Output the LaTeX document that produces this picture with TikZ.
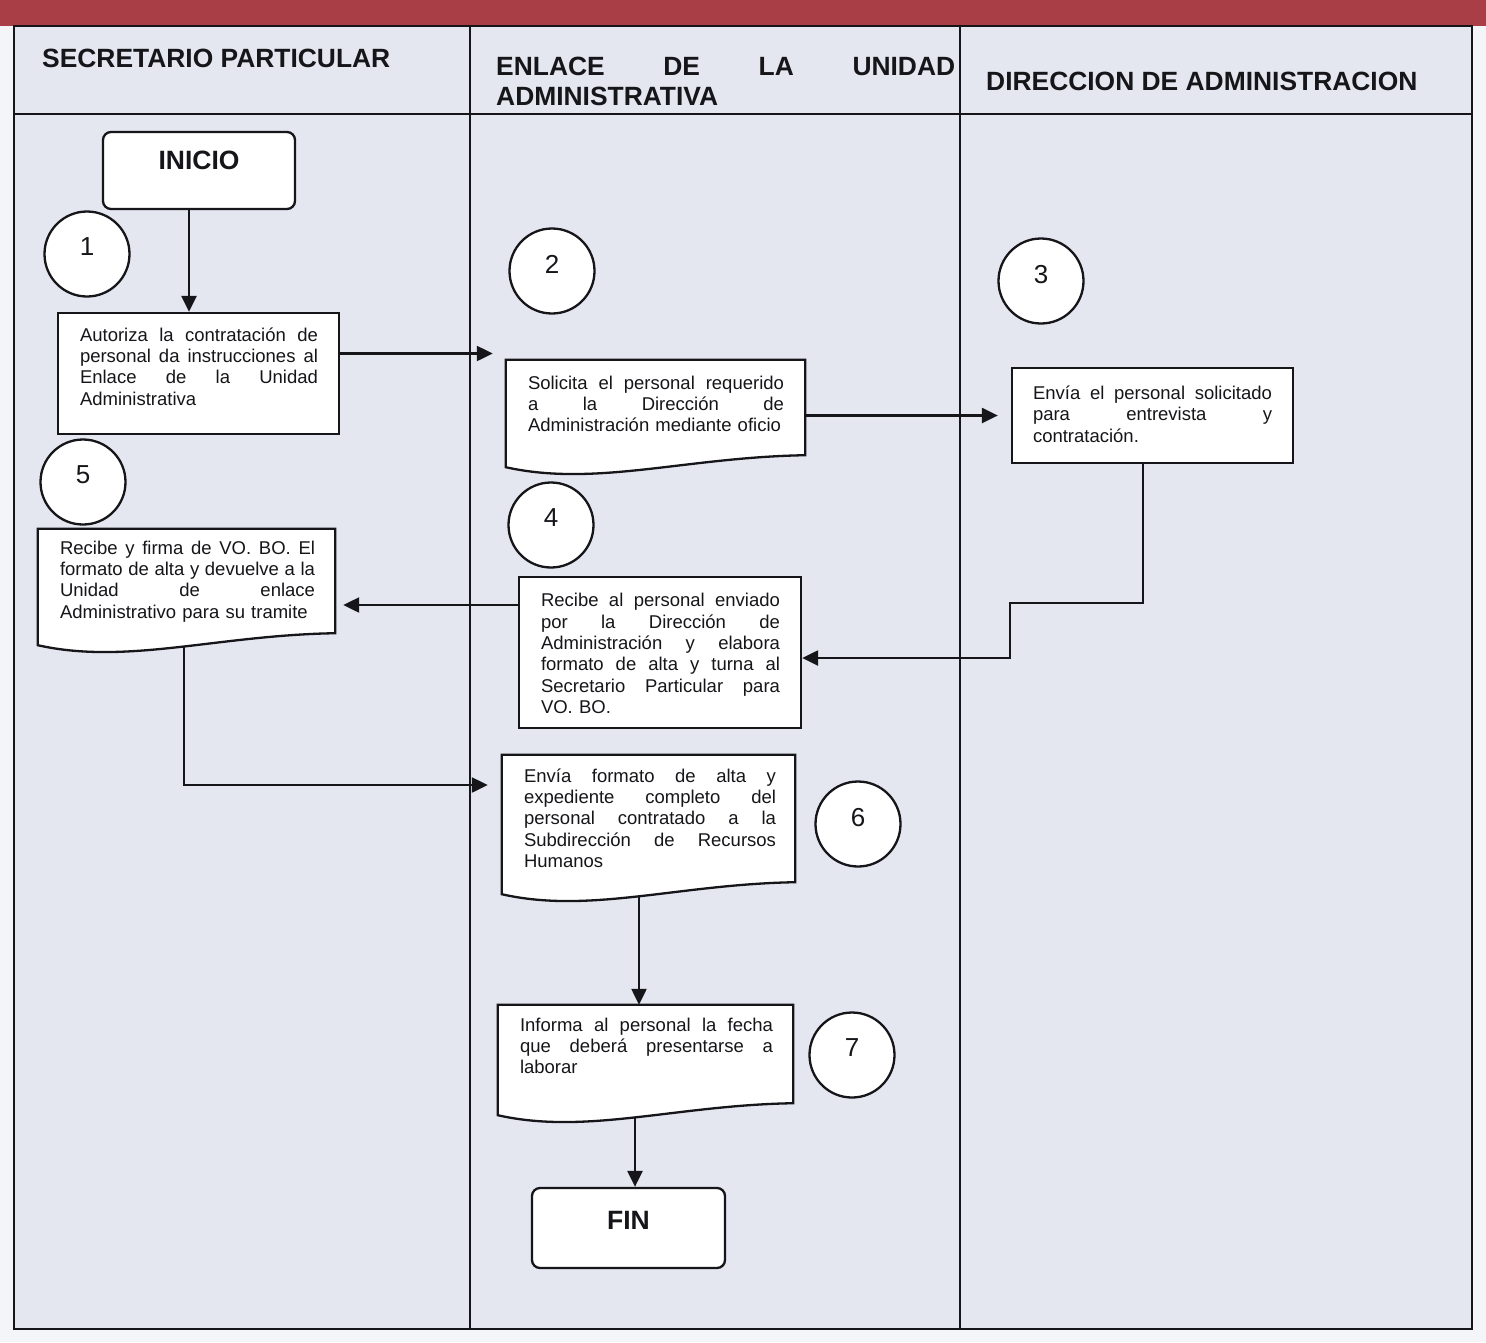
\documentclass[tikz,border=0pt]{standalone}
\usepackage{fontspec}
\setmainfont{Liberation Sans}
\usetikzlibrary{arrows.meta,calc}
\setlength\parindent{0pt}
\frenchspacing
\newcommand\jl[1]{\makebox[\hsize][s]{\spaceskip=0pt\xspaceskip=0pt\relax #1}\\}
\pgfdeclarelayer{bottom}
\pgfdeclarelayer{mid}
\pgfdeclarelayer{docs}
\pgfsetlayers{bottom,mid,docs,main}
\definecolor{band}{RGB}{170,62,70}
\definecolor{paper}{RGB}{244,245,249}
\definecolor{cell}{RGB}{228,231,239}
\definecolor{ink}{RGB}{22,22,26}
\newcommand\mydocshape[1]{%
  \begin{pgfonlayer}{docs}
  \draw[draw=ink, line width=2.3pt, fill=white, line join=miter]
    (#1.south east) -- (#1.north east) -- (#1.north west) -- ($(#1.south west)+(0,12)$)
    .. controls ($(#1.south west)!0.3!(#1.south east)+(0,32)$) and ($(#1.south west)!0.6!(#1.south east)+(0,2)$) .. (#1.south east) -- cycle;
  \end{pgfonlayer}}
\begin{document}
\begin{tikzpicture}[x=1pt,y=-1pt,
  hdr/.style={inner sep=0pt, text=ink, font=\bfseries\fontsize{26.4}{30}\selectfont},
  term/.style={draw=ink, line width=2.3pt, fill=white, rounded corners=8pt, inner sep=0pt, text=ink, font=\bfseries\fontsize{26.5}{30}\selectfont},
  numc/.style={circle, draw=ink, line width=2.3pt, fill=white, minimum size=85pt, inner sep=0pt, text=ink, font=\fontsize{26}{30}\selectfont, text depth=14pt},
  procbox/.style={draw=ink, line width=2.3pt, fill=white, inner sep=0pt},
  docbox/.style={draw=none, inner sep=0pt},
  txt/.style={inner sep=0pt, align=left, text=ink, font=\fontsize{18.5}{21.3}\selectfont},
  arr/.style={draw=ink, line width=2.3pt, -{Triangle[length=16pt,width=15pt]}},
  lane/.style={draw=ink, line width=1.8pt}]
\useasboundingbox (0,0) rectangle (1486,1342);
\begin{pgfonlayer}{bottom}
  \fill[paper] (0,0) rectangle (1486,1342);
  \fill[band] (0,0) rectangle (1486,26);
  \fill[cell] (14,26) rectangle (1472,1329);
  \draw[lane] (14,26) rectangle (1472,1329);
  \draw[lane] (14,114) -- (1472,114);
  \draw[lane] (470,26) -- (470,1329);
  \draw[lane] (960,26) -- (960,1329);
\end{pgfonlayer}

% headers
\node[hdr, anchor=west] (h1) at (42,58) {SECRETARIO PARTICULAR};
\node[hdr, anchor=north west, text width=459pt, align=left] (h2) at (496,56.5) {\jl{ENLACE DE LA UNIDAD}ADMINISTRATIVA};
\node[hdr, anchor=west] (h3) at (986,81) {DIRECCION DE ADMINISTRACION};

% terminals
\node[term, minimum width=192pt, minimum height=77pt, text depth=21pt] (inicio) at (199,170.5) {INICIO};
\node[term, minimum width=193pt, minimum height=80pt, text depth=16pt] (fin) at (628.5,1228) {FIN};

% step numbers
\node[numc] (n1) at (87,254) {1};
\node[numc] (n2) at (552,271) {2};
\node[numc] (n3) at (1041,281) {3};
\node[numc] (n4) at (551,525) {4};
\node[numc] (n5) at (83,482) {5};
\node[numc] (n6) at (858,824) {6};
\node[numc] (n7) at (852,1055) {7};

% process boxes
\node[procbox, minimum width=281pt, minimum height=121pt] (b1) at (198.5,373.5) {};
\node[docbox, minimum width=299pt, minimum height=95pt] (b2) at (655.5,407.5) {};
\node[procbox, minimum width=281pt, minimum height=95pt] (b3) at (1152.5,415.5) {};
\node[procbox, minimum width=282pt, minimum height=151pt] (b4) at (660,652.5) {};
\node[docbox, minimum width=297pt, minimum height=104pt] (b5) at (186.5,581) {};
\node[docbox, minimum width=293pt, minimum height=127pt] (b6) at (648.5,818.5) {};
\node[docbox, minimum width=295pt, minimum height=98pt] (b7) at (645.5,1054) {};
\mydocshape{b2}
\mydocshape{b5}
\mydocshape{b6}
\mydocshape{b7}

% texts
\node[txt, text width=238pt] (t1) at (199,366.5) {\jl{Autoriza la contratación de}\jl{personal da instrucciones al}\jl{Enlace de la Unidad}Administrativa};
\node[txt, text width=256pt] (t2) at (656,404) {\jl{Solicita el personal requerido}\jl{a la Dirección de}Administración mediante oficio};
\node[txt, text width=239pt] (t3) at (1152.5,414) {\jl{Envía el personal solicitado}\jl{para entrevista y}contratación.};
\node[txt, text width=239pt] (t4) at (660.5,653.5) {\jl{Recibe al personal enviado}\jl{por la Dirección de}\jl{Administración y elabora}\jl{formato de alta y turna al}\jl{Secretario Particular para}VO. BO.};
\node[txt, text width=255pt] (t5) at (187.5,581.5) {\jl{Recibe y firma de VO. BO. El}\jl{formato de alta y devuelve a la}\jl{Unidad de enlace}Administrativo para su tramite};
\node[txt, text width=252pt] (t6) at (650,818) {\jl{Envía formato de alta y}\jl{expediente completo del}\jl{personal contratado a la}\jl{Subdirección de Recursos}Humanos};
\node[txt, text width=253pt] (t7) at (646.5,1046) {\jl{Informa al personal la fecha}\jl{que deberá presentarse a}laborar};

% connectors
\coordinate (j1) at (1010,603);
\begin{pgfonlayer}{mid}
  \draw[arr] ([xshift=-10pt]inicio.south) -- ([xshift=-10pt]inicio.south |- b1.north);
  \draw[arr, shorten >=13pt] ([yshift=20pt]b1.east) -- ([yshift=20pt]b1.east -| b2.west);
  \draw[arr, shorten >=13pt] (b3.west -| b2.east) -- (b3.west);
  \draw[arr] ([xshift=-9.5pt]b3.south) |- (j1) |- ([yshift=-5.5pt]b4.east);
  \draw[arr, shorten >=8pt] ([yshift=47.5pt]b4.west) -- ([yshift=47.5pt]b4.west -| b5.east);
  \draw[arr, shorten >=14pt] ([xshift=-2.5pt]b5.south) |- ([yshift=33.5pt]b6.west);
  \draw[arr] ([xshift=-9.5pt]b6.south) -- ([xshift=-9.5pt]b6.south |- b7.north);
  \draw[arr] ([xshift=-10.5pt]b7.south) -- ([xshift=-10.5pt]b7.south |- fin.north);
\end{pgfonlayer}
\end{tikzpicture}
\end{document}
